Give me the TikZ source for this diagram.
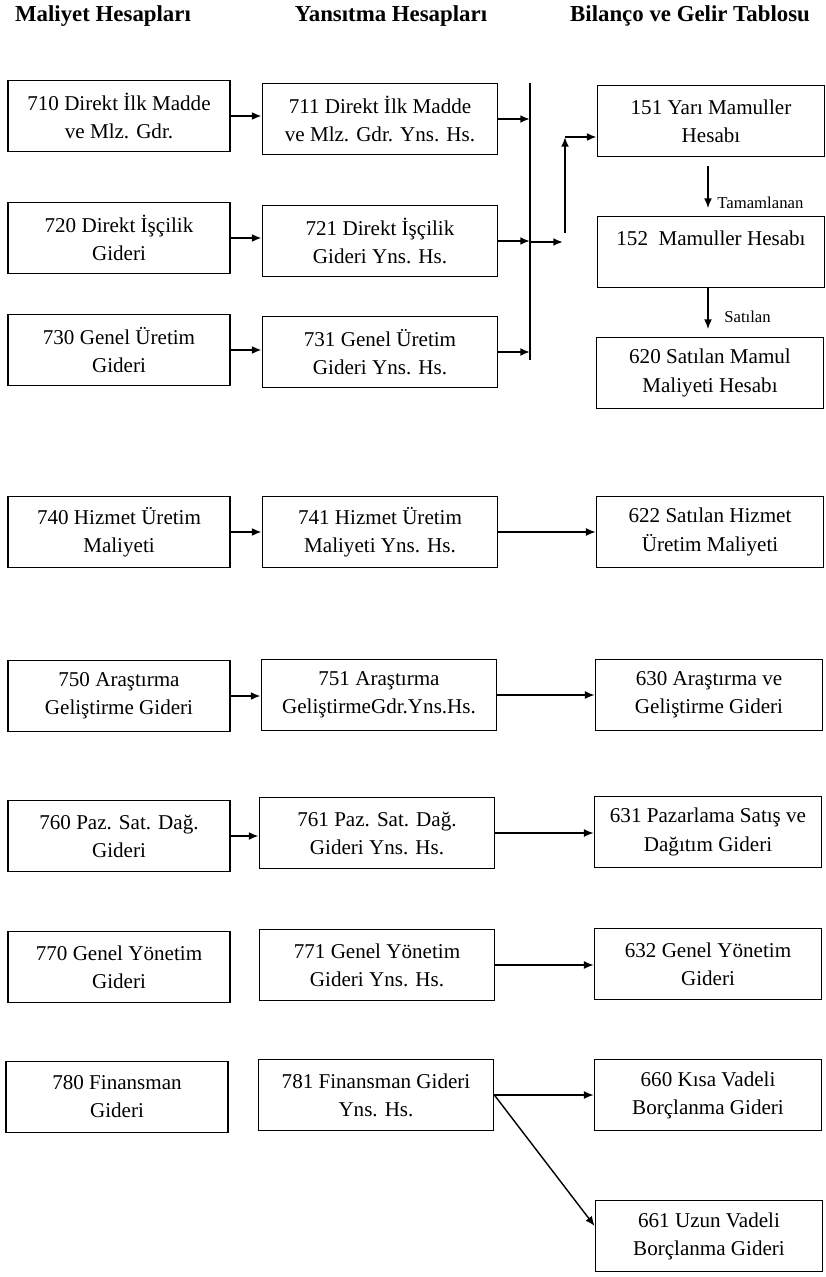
\documentclass[tikz,border=0pt]{standalone}
\usepackage{fontspec}
\setmainfont{Liberation Serif}
\usepackage{tikz}
\usetikzlibrary{arrows.meta}
\tikzset{acct/.style={draw,line width=1pt,align=center,inner sep=0pt,minimum height=1.42cm,font=\fontsize{12}{16}\selectfont}}
\tikzset{acctL/.style={acct,minimum width=4.44cm},acctM/.style={acct,minimum width=4.7cm},acctR/.style={acct,minimum width=4.54cm}}
\tikzset{flow/.style={-{Latex[length=5.5pt,width=4.5pt]},line width=1.1pt},lflow/.style={flow,line width=0.8pt}}
\tikzset{hdr/.style={font=\fontsize{13}{15}\selectfont\bfseries},lbl/.style={font=\fontsize{9.5}{11}\selectfont,inner sep=0pt}}

\begin{document}
\begin{tikzpicture}[x=0.02cm,y=-0.02cm]
	\useasboundingbox (0,0) rectangle (825,1277);
	\node[hdr] (H1) at (103,16) {Maliyet Hesapları};
	\node[hdr] (H2) at (391,16) {Yansıtma Hesapları};
	\node[hdr] (H3) at (690,16) {Bilanço ve Gelir Tablosu};
	%
	\node[acctL] (710) at (119,116) {710 Direkt İlk Madde\\ve Mlz. Gdr.};
	\node[acctL] (720) at (119,238) {720 Direkt İşçilik\\Gideri};
	\node[acctL] (730) at (119,350) {730 Genel Üretim\\Gideri};
	\node[acctL] (740) at (119,532) {740 Hizmet Üretim\\Maliyeti};
	\node[acctL] (750) at (119,696) {750 Araştırma\\Geliştirme Gideri};
	\node[acctL] (760) at (119,836) {760 Paz. Sat. Dağ.\\Gideri};
	\node[acctL] (770) at (119,967) {770 Genel Yönetim\\Gideri};
	\node[acctL] (780) at (117,1097) {780 Finansman\\Gideri};
	%
	\node[acctM] (711) at (380,119) {711 Direkt İlk Madde\\ve Mlz. Gdr. Yns. Hs.};
	\node[acctM] (721) at (380,241) {721 Direkt İşçilik\\Gideri Yns. Hs.};
	\node[acctM] (731) at (380,352) {731 Genel Üretim\\Gideri Yns. Hs.};
	\node[acctM] (741) at (380,532) {741 Hizmet Üretim\\Maliyeti Yns. Hs.};
	\node[acctM] (751) at (379,695) {751 Araştırma\\GeliştirmeGdr.Yns.Hs.};
	\node[acctM] (761) at (377,833) {761 Paz. Sat. Dağ.\\Gideri Yns. Hs.};
	\node[acctM] (771) at (377,965) {771 Genel Yönetim\\Gideri Yns. Hs.};
	\node[acctM] (781) at (376,1095) {781 Finansman Gideri\\Yns. Hs.};
	%
	\node[acctR] (151) at (711,121) {151 Yarı Mamuller\\Hesabı};
	\node[acctR] (152) at (711,252) {152\ \ Mamuller Hesabı\\~};
	\node[acctR] (620) at (710,373) {620 Satılan Mamul\\Maliyeti Hesabı};
	\node[acctR] (622) at (710,532) {622 Satılan Hizmet\\Üretim Maliyeti};
	\node[acctR] (630) at (709,695) {630 Araştırma ve\\Geliştirme Gideri};
	\node[acctR] (631) at (708,832) {631 Pazarlama Satış ve\\Dağıtım Gideri};
	\node[acctR] (632) at (708,964) {632 Genel Yönetim\\Gideri};
	\node[acctR] (660) at (708,1095) {660 Kısa Vadeli\\Borçlanma Gideri};
	\node[acctR] (661) at (709,1236) {661 Uzun Vadeli\\Borçlanma Gideri};
	%
	\coordinate (busTop) at (530,83);
	\coordinate (busBot) at (530,360);
	\coordinate (busOut) at (563,242);
	\coordinate (upBot) at (565,233);
	\coordinate (upTop) at (565,137);
	\coordinate (tamTop) at (708,166);
	\coordinate (tamEnd) at (708,208);
	\coordinate (satEnd) at (708,329);
	\node[lbl,anchor=west] (tam) at (717,203) {Tamamlanan};
	\node[lbl,anchor=west] (sat) at (724,317) {Satılan};
	%
	\draw [flow] (710.east) -- (710.east -| 711.west);
	\draw [flow] (720.east) -- (720.east -| 721.west);
	\draw [flow] (730.east) -- (730.east -| 731.west);
	\draw [flow] (740.east) -- (740.east -| 741.west);
	\draw [flow] (750.east) -- (750.east -| 751.west);
	\draw [flow] (760.east) -- (760.east -| 761.west);
	\draw [line width=1pt] (busTop) -- (busBot);
	\draw [flow] (711.east) -- (711.east -| busTop);
	\draw [flow] (721.east) -- (721.east -| busTop);
	\draw [flow] (731.east) -- (731.east -| busTop);
	\draw [flow] (busOut -| busTop) -- (busOut);
	\draw [flow] (upBot) -- (upTop);
	\draw [flow] (upTop) -- (upTop -| 151.west);
	\draw [lflow] (tamTop) -- (tamEnd);
	\draw [lflow] (152.south -| satEnd) -- (satEnd);
	\draw [lflow] (741.east) -- (741.east -| 622.west);
	\draw [lflow] (751.east) -- (751.east -| 630.west);
	\draw [lflow] (761.east) -- (761.east -| 631.west);
	\draw [lflow] (771.east) -- (771.east -| 632.west);
	\draw [lflow] (781.east) -- (781.east -| 660.west);
	\draw [lflow] (781.east) -- (661.175);
\end{tikzpicture}
\end{document}
